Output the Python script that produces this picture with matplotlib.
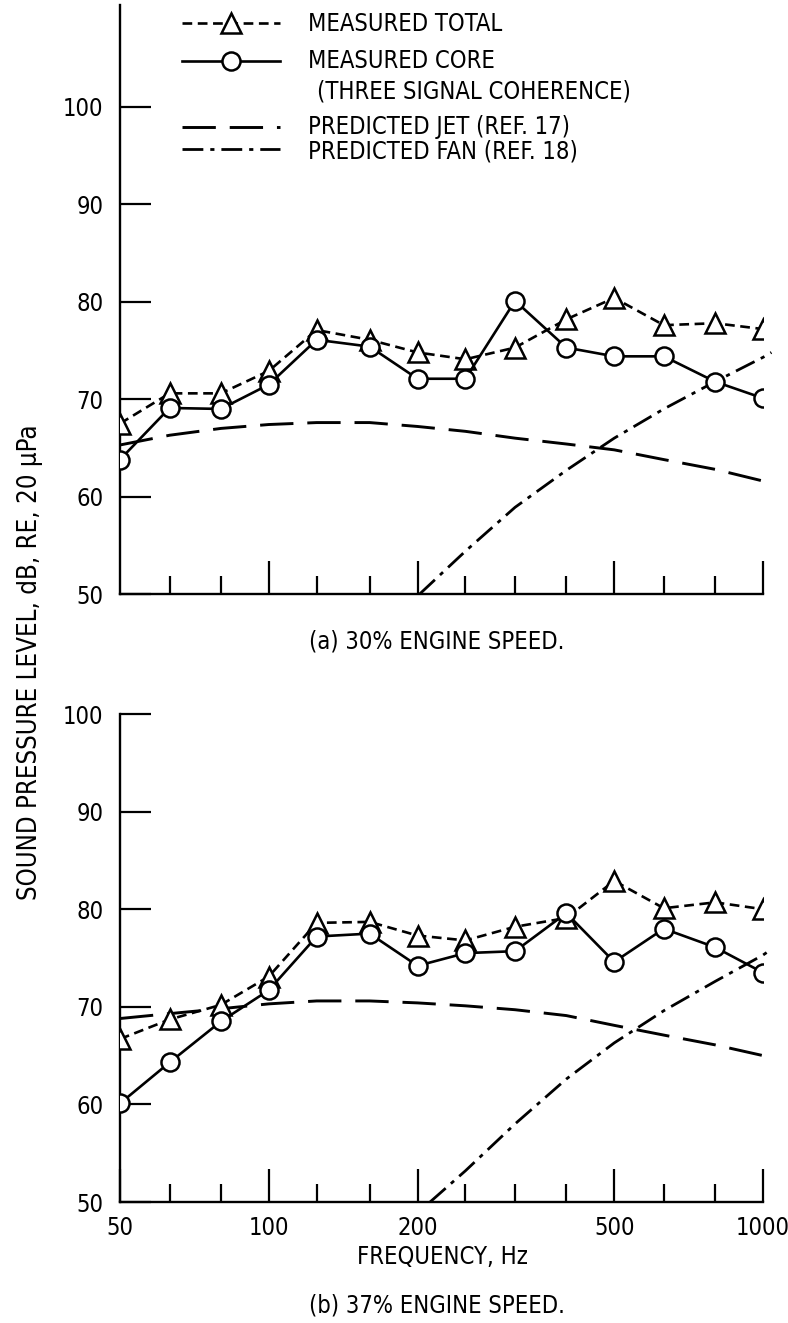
import matplotlib
matplotlib.use('Agg')
import matplotlib.pyplot as plt
from matplotlib.lines import Line2D
from matplotlib.ticker import FixedLocator, NullFormatter, FixedFormatter

plt.rcParams['font.family'] = ['DejaVu Sans']
plt.rcParams['font.stretch'] = 'condensed'
plt.rcParams['lines.scale_dashes'] = False

# ---------------- data ----------------
freq = [50, 63, 80, 100, 125, 160, 200, 250, 315, 400, 500, 630, 800, 1000]

# (a) 30% engine speed
a_total = [67.5, 70.6, 70.6, 72.9, 77.1, 76.1, 74.8, 74.1, 75.3, 78.2, 80.4, 77.6, 77.8, 77.2]
a_core = [63.8, 69.1, 69.0, 71.5, 76.1, 75.4, 72.1, 72.1, 80.1, 75.3, 74.4, 74.4, 71.8, 70.1]
a_jet = [65.3, 66.3, 67.0, 67.4, 67.6, 67.6, 67.2, 66.7, 66.0, 65.4, 64.8, 63.8, 62.8, 61.6]
a_fan_freq = [202, 250, 315, 400, 500, 630, 800, 1000, 1040]
a_fan = [50.0, 54.4, 58.9, 62.7, 66.0, 69.0, 71.8, 74.3, 74.8]

# (b) 37% engine speed
b_total = [66.7, 68.7, 70.2, 73.1, 78.6, 78.7, 77.3, 76.8, 78.2, 79.1, 82.9, 80.1, 80.7, 80.0]
b_core = [60.1, 64.3, 68.5, 71.7, 77.2, 77.5, 74.2, 75.5, 75.7, 79.6, 74.6, 78.0, 76.1, 73.5]
b_jet = [68.8, 69.3, 69.8, 70.3, 70.6, 70.6, 70.4, 70.1, 69.7, 69.1, 68.1, 67.1, 66.1, 65.0]
b_fan_freq = [212, 250, 315, 400, 500, 630, 800, 1000, 1040]
b_fan = [50.0, 53.2, 58.0, 62.6, 66.3, 69.6, 72.6, 75.3, 75.9]

major_ticks = [100, 200, 500, 1000]
minor_ticks = [63, 80, 125, 160, 250, 315, 400, 630, 800]
x_labels_pos = [50, 100, 200, 500, 1000]
x_labels = ['50', '100', '200', '500', '1000']
y_ticks = [50, 60, 70, 80, 90, 100]
y_labels = ['50', '60', '70', '80', '90', '100']

legend_labels = ['MEASURED TOTAL', 'MEASURED CORE', '(THREE SIGNAL COHERENCE)',
                 'PREDICTED JET (REF. 17)', 'PREDICTED FAN (REF. 18)']

# ---------------- layout ----------------
W, H = 788, 1323
fig = plt.figure(figsize=(W / 100, H / 100), dpi=100)


def fx(px):
    return px / W


def fy(py):
    return 1 - py / H


FS = 17
LW = 1.9
TOTAL_DASH = (7, 4)
JET_DASH = (24, 10)
FAN_DASH = (15, 5, 3, 5)

ax1 = fig.add_axes([fx(120), fy(594), (763 - 120) / W, (594 - 5) / H])
ax2 = fig.add_axes([fx(120), fy(1202), (763 - 120) / W, (1202 - 714) / H])


def draw(ax, total, core, jet, fan_f, fan, ytop):
    ax.plot(freq, jet, color='black', lw=2.1, dashes=JET_DASH, zorder=2)
    ax.plot(fan_f, fan, color='black', lw=2.0, dashes=FAN_DASH, zorder=2, clip_on=False)
    ax.plot(freq, total, color='black', lw=LW, dashes=TOTAL_DASH, marker='^', ms=14,
            mfc='white', mec='black', mew=1.8, zorder=4)
    ax.plot(freq, core, color='black', lw=LW, marker='o', ms=13,
            mfc='white', mec='black', mew=1.8, zorder=5)
    ax.set_xscale('log')
    ax.set_xlim(50, 1000)
    ax.set_ylim(50, ytop)
    for s in ['top', 'right']:
        ax.spines[s].set_visible(False)
    for s in ['left', 'bottom']:
        ax.spines[s].set_linewidth(1.7)
    ax.xaxis.set_major_locator(FixedLocator(major_ticks))
    ax.xaxis.set_minor_locator(FixedLocator(minor_ticks))
    ax.xaxis.set_minor_formatter(NullFormatter())
    ax.yaxis.set_major_locator(FixedLocator(y_ticks))
    ax.yaxis.set_major_formatter(FixedFormatter(y_labels))
    ax.yaxis.set_minor_locator(FixedLocator([]))
    ax.tick_params(axis='y', which='major', direction='in', length=22, width=1.6,
                   labelsize=FS, pad=12)
    ax.tick_params(axis='x', which='major', direction='in', length=24, width=1.6,
                   labelsize=FS, pad=10)
    ax.tick_params(axis='x', which='minor', direction='in', length=13, width=1.6)
    ax.set_facecolor('none')


draw(ax1, a_total, a_core, a_jet, a_fan_freq, a_fan, 50 + 589 / 97.4 * 10)
ax1.tick_params(axis='x', labelbottom=False)

draw(ax2, b_total, b_core, b_jet, b_fan_freq, b_fan, 100)
ax2.xaxis.set_major_locator(FixedLocator(x_labels_pos))
ax2.xaxis.set_major_formatter(FixedFormatter(x_labels))

# ---------------- legend (drawn by hand) ----------------
lx0, lx1, lxm = fx(182), fx(280), fx(231)
rows = [23, 61, 127, 149]
styles = [
    dict(lw=LW, dashes=TOTAL_DASH),
    dict(lw=LW),
    dict(lw=2.1, dashes=JET_DASH),
    dict(lw=2.0, dashes=FAN_DASH),
]
for r, st in zip(rows, styles):
    fig.add_artist(Line2D([lx0, lx1], [fy(r), fy(r)], color='black',
                          transform=fig.transFigure, **st))
fig.add_artist(Line2D([lxm], [fy(23)], marker='^', ms=14, mfc='white', mec='black',
                      mew=1.8, transform=fig.transFigure, zorder=5))
fig.add_artist(Line2D([lxm], [fy(61)], marker='o', ms=13, mfc='white', mec='black',
                      mew=1.8, transform=fig.transFigure, zorder=5))

text_pos = [(308, 24), (308, 61), (317, 91), (308, 127), (308, 152)]
for (tx, ty), lab in zip(text_pos, legend_labels):
    fig.text(fx(tx), fy(ty), lab, fontsize=FS, va='center', ha='left')

# ---------------- captions / labels ----------------
fig.text(fx(437), fy(642), '(a) 30% ENGINE SPEED.', fontsize=FS, ha='center', va='center')
fig.text(fx(442), fy(1257), 'FREQUENCY, Hz', fontsize=FS, ha='center', va='center')
fig.text(fx(437), fy(1306), '(b) 37% ENGINE SPEED.', fontsize=FS, ha='center', va='center')
fig.text(fx(30), fy(662), 'SOUND PRESSURE LEVEL, dB, RE, 20 \u03bcPa', fontsize=18.5,
         rotation=90, ha='center', va='center')

fig.savefig('out.png', dpi=100, facecolor='white')
